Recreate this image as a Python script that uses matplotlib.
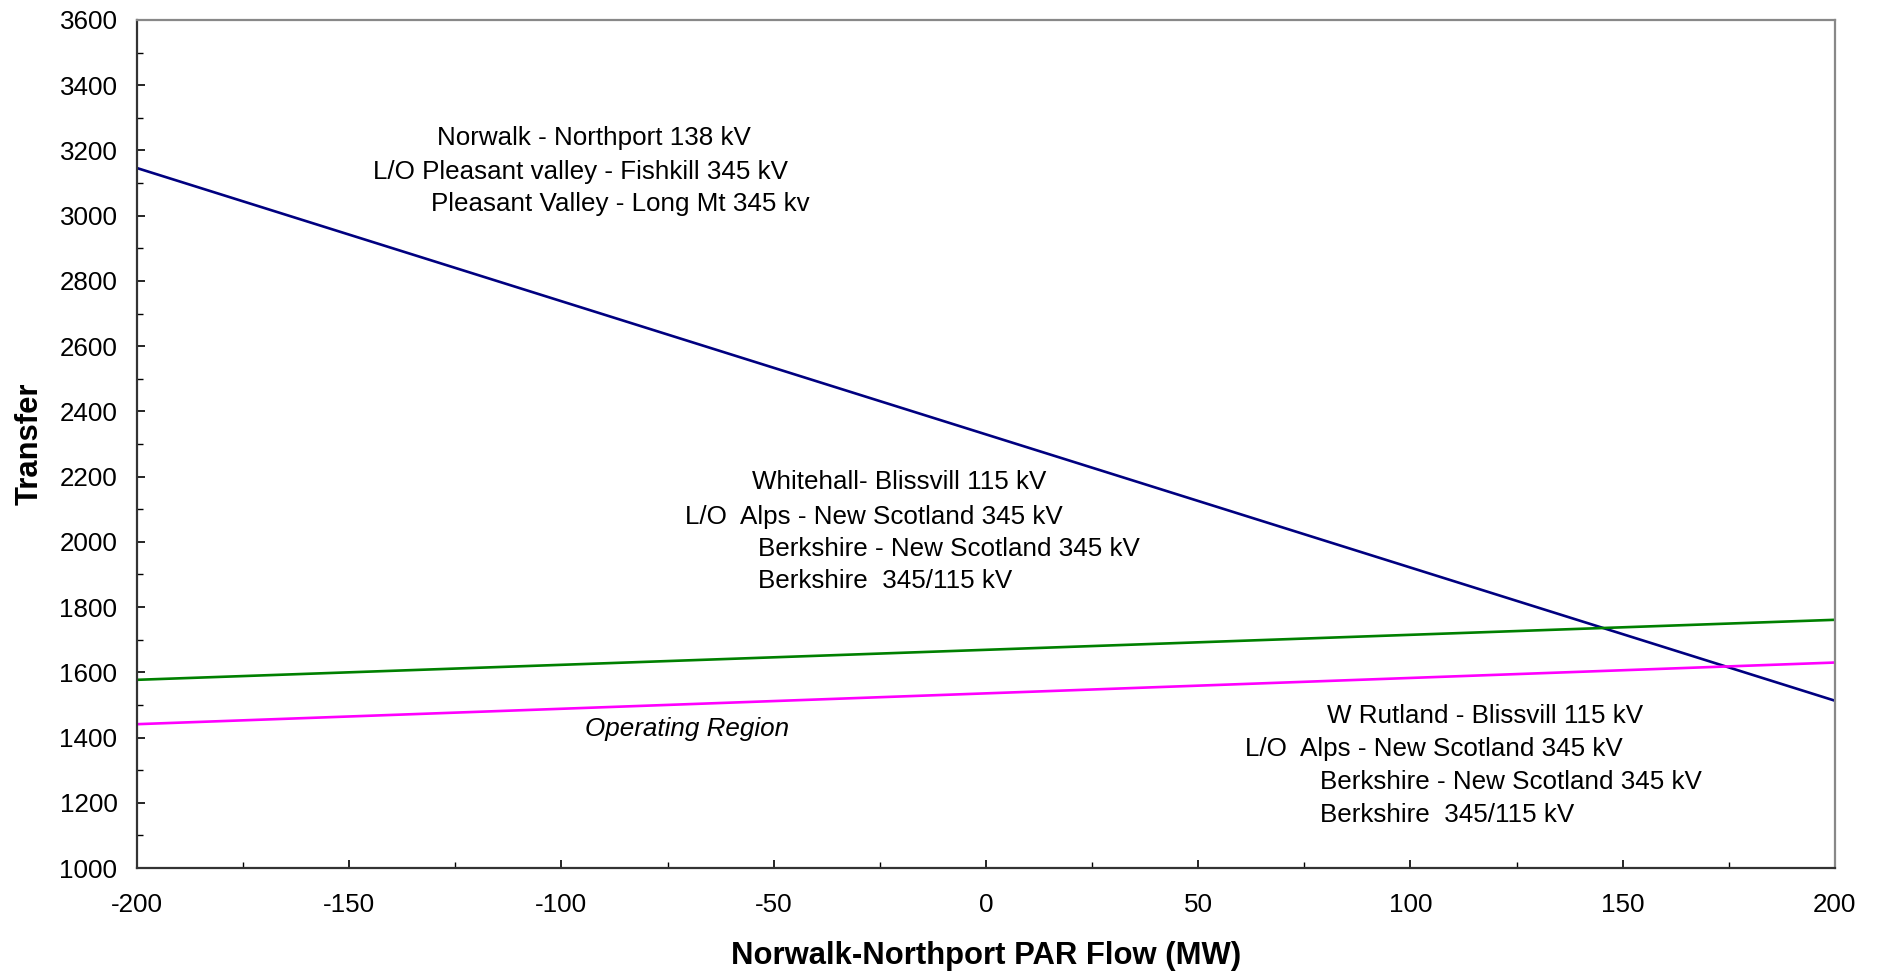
import matplotlib.pyplot as plt
from matplotlib.ticker import MultipleLocator

plt.rcParams['font.family'] = ['Liberation Sans', 'DejaVu Sans']
plt.rcParams['axes.unicode_minus'] = False

# PAR flow (MW) at the two ends of each limit line
par_flow = [-200, 200]
norwalk_limit = [3146, 1513]     # blue
whitehall_limit = [1577, 1761]   # green
rutland_limit = [1441, 1630]     # magenta

# annotation blocks: (text, x, y)
norwalk_notes = [('Norwalk - Northport 138 kV', -129.3, 3237),
                 ('L/O Pleasant valley - Fishkill 345 kV', -144.4, 3135),
                 ('Pleasant Valley - Long Mt 345 kv', -130.7, 3037)]
whitehall_notes = [('Whitehall- Blissvill 115 kV', -55.1, 2185),
                   ('L/O  Alps - New Scotland 345 kV', -70.9, 2077),
                   ('Berkshire - New Scotland 345 kV', -53.7, 1979),
                   ('Berkshire  345/115 kV', -53.7, 1881)]
rutland_notes = [('W Rutland - Blissvill 115 kV', 80.3, 1465),
                 ('L/O  Alps - New Scotland 345 kV', 61.0, 1366),
                 ('Berkshire - New Scotland 345 kV', 78.7, 1264),
                 ('Berkshire  345/115 kV', 78.7, 1164)]

fig = plt.figure(figsize=(18.81, 9.74), dpi=100)
ax = fig.add_axes([0.0728, 0.1088, 0.9027, 0.8707])

ax.plot(par_flow, norwalk_limit, color='#000080', lw=1.9)
ax.plot(par_flow, whitehall_limit, color='#008000', lw=1.9)
ax.plot(par_flow, rutland_limit, color='#FF00FF', lw=1.9)

for notes in (norwalk_notes, whitehall_notes, rutland_notes):
    for txt, x, y in notes:
        ax.text(x, y, txt, fontsize=18.7, ha='left', va='center')

ax.text(-94.4, 1425, 'Operating Region', fontsize=18.7, style='italic',
        ha='left', va='center')

ax.set_xlim(-200, 200)
ax.set_ylim(1000, 3600)
ax.xaxis.set_major_locator(MultipleLocator(50))
ax.xaxis.set_minor_locator(MultipleLocator(25))
ax.yaxis.set_major_locator(MultipleLocator(200))
ax.yaxis.set_minor_locator(MultipleLocator(100))

ax.tick_params(which='both', direction='in', labelsize=18.7, top=False, right=False)
ax.tick_params(which='major', length=6, width=1.2)
ax.tick_params(which='minor', length=4.5, width=1.0)
ax.tick_params(axis='y', pad=14)
ax.tick_params(axis='x', pad=18)

for side in ('left', 'bottom'):
    ax.spines[side].set_color('#333333')
    ax.spines[side].set_linewidth(1.6)
for side in ('top', 'right'):
    ax.spines[side].set_color('#888888')
    ax.spines[side].set_linewidth(1.6)

ax.set_xlabel('Norwalk-Northport PAR Flow (MW)', fontsize=22.3, fontweight='bold', labelpad=17)
ax.set_ylabel('Transfer', fontsize=22.3, fontweight='bold', labelpad=11)

fig.savefig('out.png', dpi=100)
